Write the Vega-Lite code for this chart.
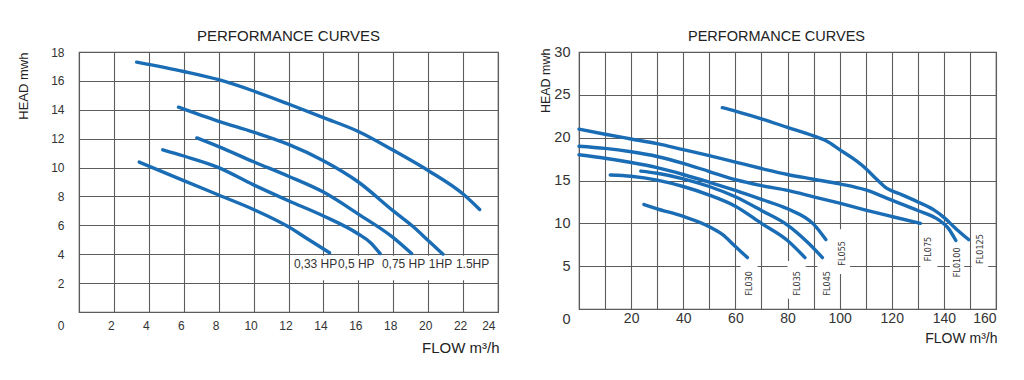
{
  "$schema": "https://vega.github.io/schema/vega-lite/v6.json",
  "padding": {"left": 16, "top": 27, "right": 5, "bottom": 5},
  "spacing": 38,
  "config": {
    "font": "Liberation Sans",
    "view": {"stroke": "#555555", "strokeWidth": 1.2},
    "axis": {"domain": false, "ticks": false, "grid": true, "gridColor": "#5c5c5c", "gridWidth": 1.1, "gridOpacity": 1, "labelColor": "#333333", "titleColor": "#222222", "labelFont": "Liberation Sans", "titleFont": "Liberation Sans", "titleFontWeight": "normal", "labelOverlap": false, "tickCount": 40, "format": "d"},
    "title": {"font": "Liberation Sans", "fontWeight": "normal", "color": "#222222"}
  },
  "datasets": {
    "left": [
      {"pump": "1.5HP", "flow": 3.3, "head": 17.3}, {"pump": "1.5HP", "flow": 6, "head": 16.65}, {"pump": "1.5HP", "flow": 8, "head": 16.08}, {"pump": "1.5HP", "flow": 10, "head": 15.3}, {"pump": "1.5HP", "flow": 12, "head": 14.4}, {"pump": "1.5HP", "flow": 14, "head": 13.46}, {"pump": "1.5HP", "flow": 16, "head": 12.5}, {"pump": "1.5HP", "flow": 18, "head": 11.2}, {"pump": "1.5HP", "flow": 20, "head": 9.8}, {"pump": "1.5HP", "flow": 22, "head": 8.17}, {"pump": "1.5HP", "flow": 22.95, "head": 7.1},
      {"pump": "1HP", "flow": 5.7, "head": 14.18}, {"pump": "1HP", "flow": 8, "head": 13.2}, {"pump": "1HP", "flow": 10, "head": 12.45}, {"pump": "1HP", "flow": 12, "head": 11.6}, {"pump": "1HP", "flow": 14, "head": 10.47}, {"pump": "1HP", "flow": 16, "head": 9.0}, {"pump": "1HP", "flow": 18, "head": 7.0}, {"pump": "1HP", "flow": 19.2, "head": 5.85}, {"pump": "1HP", "flow": 20, "head": 4.95}, {"pump": "1HP", "flow": 20.85, "head": 4.0},
      {"pump": "0.75HP", "flow": 6.75, "head": 12.05}, {"pump": "0.75HP", "flow": 8, "head": 11.45}, {"pump": "0.75HP", "flow": 10, "head": 10.4}, {"pump": "0.75HP", "flow": 12, "head": 9.4}, {"pump": "0.75HP", "flow": 14, "head": 8.3}, {"pump": "0.75HP", "flow": 16, "head": 6.78}, {"pump": "0.75HP", "flow": 18, "head": 5.15}, {"pump": "0.75HP", "flow": 19.05, "head": 4.05},
      {"pump": "0.5HP", "flow": 4.8, "head": 11.23}, {"pump": "0.5HP", "flow": 6, "head": 10.8}, {"pump": "0.5HP", "flow": 8, "head": 10.0}, {"pump": "0.5HP", "flow": 10, "head": 8.8}, {"pump": "0.5HP", "flow": 12, "head": 7.7}, {"pump": "0.5HP", "flow": 14, "head": 6.65}, {"pump": "0.5HP", "flow": 16, "head": 5.4}, {"pump": "0.5HP", "flow": 16.7, "head": 4.8}, {"pump": "0.5HP", "flow": 17.25, "head": 4.04},
      {"pump": "0.33HP", "flow": 3.45, "head": 10.38}, {"pump": "0.33HP", "flow": 6, "head": 9.1}, {"pump": "0.33HP", "flow": 8, "head": 8.1}, {"pump": "0.33HP", "flow": 10, "head": 7.1}, {"pump": "0.33HP", "flow": 12, "head": 5.9}, {"pump": "0.33HP", "flow": 13.1, "head": 5.05}, {"pump": "0.33HP", "flow": 14.35, "head": 4.1}
    ],
    "leftlab": [
      {"label": "0,33 HP", "lx": 12.31, "ly": 3.32}, {"label": "0,5 HP", "lx": 14.83, "ly": 3.32}, {"label": "0,75 HP", "lx": 17.35, "ly": 3.32}, {"label": "1HP", "lx": 20.04, "ly": 3.32}, {"label": "1.5HP", "lx": 21.59, "ly": 3.32}
    ],
    "leftbg": [{"x1": 12.1, "x2": 23.85, "y1": 2.2, "y2": 3.9}],
    "right": [
      {"pump": "FL030", "flow": 24.9, "head": 12.2}, {"pump": "FL030", "flow": 30, "head": 11.7}, {"pump": "FL030", "flow": 40, "head": 10.8}, {"pump": "FL030", "flow": 50, "head": 9.6}, {"pump": "FL030", "flow": 55, "head": 8.7}, {"pump": "FL030", "flow": 60, "head": 7.3}, {"pump": "FL030", "flow": 64.6, "head": 6.0},
      {"pump": "FL035", "flow": 12, "head": 15.65}, {"pump": "FL035", "flow": 20, "head": 15.5}, {"pump": "FL035", "flow": 30, "head": 15.05}, {"pump": "FL035", "flow": 40, "head": 14.3}, {"pump": "FL035", "flow": 50, "head": 13.3}, {"pump": "FL035", "flow": 60, "head": 12.0}, {"pump": "FL035", "flow": 70, "head": 10.0}, {"pump": "FL035", "flow": 80, "head": 8.0}, {"pump": "FL035", "flow": 86.7, "head": 6.0},
      {"pump": "FL045", "flow": 23.7, "head": 16.1}, {"pump": "FL045", "flow": 30, "head": 15.85}, {"pump": "FL045", "flow": 40, "head": 15.2}, {"pump": "FL045", "flow": 50, "head": 14.3}, {"pump": "FL045", "flow": 60, "head": 13.1}, {"pump": "FL045", "flow": 70, "head": 11.5}, {"pump": "FL045", "flow": 80, "head": 9.8}, {"pump": "FL045", "flow": 88, "head": 7.7}, {"pump": "FL045", "flow": 93.4, "head": 6.0},
      {"pump": "FL055", "flow": 0, "head": 18.0}, {"pump": "FL055", "flow": 10, "head": 17.6}, {"pump": "FL055", "flow": 20, "head": 17.1}, {"pump": "FL055", "flow": 30, "head": 16.5}, {"pump": "FL055", "flow": 40, "head": 15.7}, {"pump": "FL055", "flow": 50, "head": 14.8}, {"pump": "FL055", "flow": 60, "head": 13.85}, {"pump": "FL055", "flow": 70, "head": 12.8}, {"pump": "FL055", "flow": 80, "head": 11.7}, {"pump": "FL055", "flow": 90, "head": 9.9}, {"pump": "FL055", "flow": 94.7, "head": 8.1},
      {"pump": "FL075", "flow": 0, "head": 19.0}, {"pump": "FL075", "flow": 10, "head": 18.75}, {"pump": "FL075", "flow": 20, "head": 18.35}, {"pump": "FL075", "flow": 30, "head": 17.8}, {"pump": "FL075", "flow": 40, "head": 17.0}, {"pump": "FL075", "flow": 50, "head": 16.05}, {"pump": "FL075", "flow": 60, "head": 15.1}, {"pump": "FL075", "flow": 70, "head": 14.4}, {"pump": "FL075", "flow": 80, "head": 13.85}, {"pump": "FL075", "flow": 90, "head": 13.1}, {"pump": "FL075", "flow": 100, "head": 12.35}, {"pump": "FL075", "flow": 110, "head": 11.55}, {"pump": "FL075", "flow": 120, "head": 10.8}, {"pump": "FL075", "flow": 131, "head": 10.0},
      {"pump": "FL0100", "flow": 0, "head": 21.0}, {"pump": "FL0100", "flow": 10, "head": 20.4}, {"pump": "FL0100", "flow": 20, "head": 19.85}, {"pump": "FL0100", "flow": 30, "head": 19.3}, {"pump": "FL0100", "flow": 40, "head": 18.6}, {"pump": "FL0100", "flow": 50, "head": 17.9}, {"pump": "FL0100", "flow": 60, "head": 17.15}, {"pump": "FL0100", "flow": 70, "head": 16.4}, {"pump": "FL0100", "flow": 80, "head": 15.7}, {"pump": "FL0100", "flow": 90, "head": 15.15}, {"pump": "FL0100", "flow": 100, "head": 14.6}, {"pump": "FL0100", "flow": 110, "head": 13.9}, {"pump": "FL0100", "flow": 120, "head": 12.7}, {"pump": "FL0100", "flow": 130, "head": 11.5}, {"pump": "FL0100", "flow": 138, "head": 10.4}, {"pump": "FL0100", "flow": 141.5, "head": 9.5}, {"pump": "FL0100", "flow": 144.6, "head": 8.0},
      {"pump": "FL0125", "flow": 55, "head": 23.5}, {"pump": "FL0125", "flow": 60, "head": 23.1}, {"pump": "FL0125", "flow": 70, "head": 22.2}, {"pump": "FL0125", "flow": 80, "head": 21.2}, {"pump": "FL0125", "flow": 90, "head": 20.2}, {"pump": "FL0125", "flow": 95, "head": 19.6}, {"pump": "FL0125", "flow": 100, "head": 18.6}, {"pump": "FL0125", "flow": 105, "head": 17.6}, {"pump": "FL0125", "flow": 110, "head": 16.4}, {"pump": "FL0125", "flow": 114, "head": 15.2}, {"pump": "FL0125", "flow": 118, "head": 14.1}, {"pump": "FL0125", "flow": 123, "head": 13.45}, {"pump": "FL0125", "flow": 130, "head": 12.5}, {"pump": "FL0125", "flow": 136, "head": 11.6}, {"pump": "FL0125", "flow": 140, "head": 10.7}, {"pump": "FL0125", "flow": 144.5, "head": 9.4}, {"pump": "FL0125", "flow": 149.5, "head": 8.1}
    ],
    "rightlab": [
      {"label": "FL030", "lx": 65.3, "ly": 3.0}, {"label": "FL035", "lx": 83.5, "ly": 3.0}, {"label": "FL045", "lx": 95.0, "ly": 3.0}, {"label": "FL055", "lx": 100.8, "ly": 6.5}, {"label": "FL075", "lx": 134, "ly": 7.0}, {"label": "FL0100", "lx": 145, "ly": 5.45}, {"label": "FL0125", "lx": 153.8, "ly": 7.0}
    ],
    "rightbg": [
      {"x1": 62, "x2": 68.5, "y1": 1.2, "y2": 5.6}, {"x1": 80, "x2": 87, "y1": 1.2, "y2": 5.6}, {"x1": 91.5, "x2": 98, "y1": 1.2, "y2": 5.6}, {"x1": 97.5, "x2": 104, "y1": 4.1, "y2": 9.3}, {"x1": 131, "x2": 137.5, "y1": 4.5, "y2": 9.4}, {"x1": 142.3, "x2": 147.8, "y1": 2.6, "y2": 7.6}, {"x1": 150.6, "x2": 157, "y1": 4.3, "y2": 9.4}
    ]
  },
  "hconcat": [
    {
      "width": 419,
      "height": 260,
      "title": {"text": "PERFORMANCE CURVES", "fontSize": 15, "anchor": "middle", "offset": 2},
      "layer": [
        {
          "data": {"name": "left"},
          "mark": {"type": "line", "color": "#1a6db5", "strokeWidth": 3.4, "strokeCap": "round", "interpolate": "monotone"},
          "encoding": {
            "x": {"field": "flow", "type": "quantitative", "scale": {"domain": [0, 24], "nice": false},
              "axis": {"values": [0, 2, 4, 6, 8, 10, 12, 14, 16, 18, 20, 22, 24], "tickCount": 40, "format": "d", "labelExpr": "datum.value == 0 ? '' : datum.label", "labelFontSize": 12, "labelPadding": 8, "labelOffset": -3,
                "title": "FLOW  m³/h", "titleFontSize": 15, "titleAnchor": "end", "titleAlign": "right", "titleBaseline": "alphabetic", "titleX": 420, "titleY": 40}},
            "y": {"field": "head", "type": "quantitative", "scale": {"domain": [0, 18], "nice": false},
              "axis": {"values": [0, 2, 4, 6, 8, 10, 12, 14, 16, 18], "tickCount": 40, "format": "d", "labelFontSize": 12, "labelPadding": 15,
                "labelOffset": {"condition": {"test": "datum.value === 0", "value": 13}, "value": 0},
                "title": "HEAD mwh", "titleFontSize": 13, "titleAngle": -90, "titleAlign": "right", "titleBaseline": "alphabetic", "titleX": -52, "titleY": 0}},
            "detail": {"field": "pump", "type": "nominal"}
          }
        },
        {
          "data": {"name": "leftbg"},
          "mark": {"type": "rect", "fill": "white", "stroke": null},
          "encoding": {
            "x": {"field": "x1", "type": "quantitative"},
            "x2": {"field": "x2"},
            "y": {"field": "y1", "type": "quantitative"},
            "y2": {"field": "y2"}
          }
        },
        {
          "data": {"name": "leftlab"},
          "mark": {"type": "text", "align": "left", "baseline": "middle", "fontSize": 12, "color": "#333333"},
          "encoding": {
            "x": {"field": "lx", "type": "quantitative"},
            "y": {"field": "ly", "type": "quantitative"},
            "text": {"field": "label"}
          }
        }
      ]
    },
    {
      "width": 417,
      "height": 257,
      "title": {"text": "PERFORMANCE CURVES", "fontSize": 14.5, "anchor": "middle", "offset": 0, "dx": -11},
      "layer": [
        {
          "data": {"name": "right"},
          "mark": {"type": "line", "color": "#1a6db5", "strokeWidth": 3.4, "strokeCap": "round", "interpolate": "monotone"},
          "encoding": {
            "x": {"field": "flow", "type": "quantitative", "scale": {"domain": [0, 160], "nice": false},
              "axis": {"values": [0, 10, 20, 30, 40, 50, 60, 70, 80, 90, 100, 110, 120, 130, 140, 150, 160], "tickCount": 40, "format": "d", "labelExpr": "datum.value % 20 == 0 && datum.value > 0 ? datum.label : ''", "labelFontSize": 14, "labelPadding": 2,
                "title": "FLOW  m³/h", "titleFontSize": 14, "titleAnchor": "end", "titleAlign": "right", "titleBaseline": "alphabetic", "titleX": 418, "titleY": 33}},
            "y": {"field": "head", "type": "quantitative", "scale": {"domain": [0, 30], "nice": false},
              "axis": {"values": [0, 5, 10, 15, 20, 25, 30], "tickCount": 40, "format": "d", "labelFontSize": 14.5, "labelPadding": 9,
                "labelOffset": {"condition": {"test": "datum.value === 0", "value": 10}, "value": 0},
                "title": "HEAD mwh", "titleFontSize": 12.5, "titleAngle": -90, "titleAlign": "right", "titleBaseline": "alphabetic", "titleX": -30, "titleY": -4}},
            "detail": {"field": "pump", "type": "nominal"}
          }
        },
        {
          "data": {"name": "rightbg"},
          "mark": {"type": "rect", "fill": "white", "stroke": null},
          "encoding": {
            "x": {"field": "x1", "type": "quantitative"},
            "x2": {"field": "x2"},
            "y": {"field": "y1", "type": "quantitative"},
            "y2": {"field": "y2"}
          }
        },
        {
          "data": {"name": "rightlab"},
          "mark": {"type": "text", "align": "center", "baseline": "middle", "angle": 270, "fontSize": 9, "font": "Liberation Sans Narrow, DejaVu Sans Condensed, Liberation Sans", "color": "#333333"},
          "encoding": {
            "x": {"field": "lx", "type": "quantitative"},
            "y": {"field": "ly", "type": "quantitative"},
            "text": {"field": "label"}
          }
        }
      ]
    }
  ]
}
